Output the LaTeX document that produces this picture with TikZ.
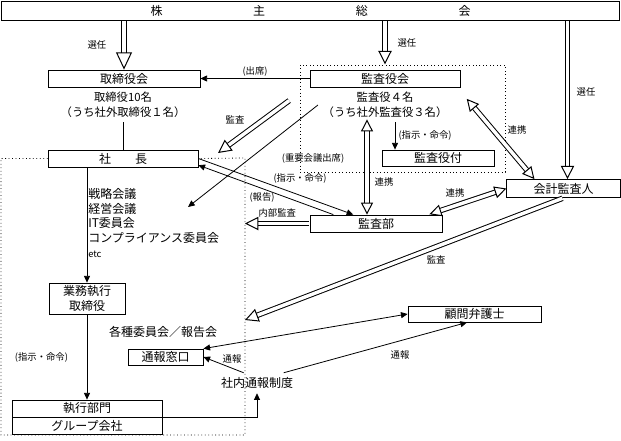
\documentclass[tikz,border=0pt]{standalone}
\usepackage{fontspec}
\setmainfont{Noto Sans CJK JP}
\usetikzlibrary{arrows.meta,calc}
\tikzset{
	box/.style={draw, line width=0.6pt, minimum height=12.75pt, inner sep=0pt, font=\fontsize{9}{11}\selectfont},
	txt/.style={font=\fontsize{8.5}{11}\selectfont, align=center},
	lbl/.style={font=\fontsize{7}{8}\selectfont, inner sep=1pt},
	arr/.style={line width=0.6pt, -{Triangle[length=5pt,width=4.5pt]}},
	hollow/.style={line width=0.75pt, double, double distance=2.6pt, shorten <=0.8pt, -{Triangle[open,length=10pt,width=10pt]}},
	hollowboth/.style={hollow, {Triangle[open,length=9pt,width=9pt]}-{Triangle[open,length=9pt,width=9pt]}},
	zone/.style={dotted, line width=0.6pt}
}
\begin{document}
\begin{tikzpicture}[x=0.75pt,y=-0.75pt]
	\useasboundingbox (0,0) rectangle (621,440);
	\node[box, minimum width=464pt, minimum height=14.25pt] (meeting) at (310.5,10.5) {株\hspace{68pt}主\hspace{68pt}総\hspace{68pt}会};
	\node[box, minimum width=114pt] (board) at (124,78.5) {取締役会};
	\node[txt] (boardtxt) at (123,105) {取締役10名\\（うち社外取締役１名）};
	\node[box, minimum width=112.5pt] (kansa) at (385,78.5) {監査役会};
	\node[txt] (kansatxt) at (385,105) {監査役４名\\（うち社外監査役３名）};
	\node[box, minimum width=84pt, minimum height=12pt] (staff) at (438,158) {監査役付};
	\node[box, minimum width=112.5pt] (president) at (123,158.5) {社　　長};
	\node[box, minimum width=99pt] (audit) at (376,223.5) {監査部};
	\node[box, minimum width=85pt, minimum height=13.5pt] (accountant) at (563.5,188.5) {会計監査人};
	\node[anchor=north west, font=\fontsize{9}{11}\selectfont, align=left, inner sep=0pt] (councils) at (88,188) {戦略会議\\経営会議\\IT委員会\\コンプライアンス委員会\\{\fontsize{7}{8}\selectfont etc}};
	\node[box, minimum width=57pt, minimum height=23.25pt, align=center] (exec) at (87,298.5) {業務執行\\取締役};
	\node[box, minimum width=112.5pt] (dept) at (87,408.5) {執行部門};
	\node[box, minimum width=112.5pt] (group) at (87,425.5) {グループ会社};
	\node[txt, font=\fontsize{9}{11}\selectfont] (reports) at (163,332) {各種委員会／報告会};
	\node[box, minimum width=56.25pt, minimum height=12pt] (window) at (165.5,357) {通報窓口};
	\node[txt, font=\fontsize{9}{11}\selectfont] (whistle) at (257,383) {社内通報制度};
	\node[box, minimum width=99.75pt, minimum height=12pt] (lawyer) at (474.5,314) {顧問弁護士};
	\coordinate (zoneR) at (245,320);
	\coordinate (meetpt) at (188,207);
	\coordinate (chkstart) at (290,100);
	\coordinate (chk) at (218,153);
	\coordinate (link) at ([xshift=-13.5pt]kansatxt.south);
	\draw[zone] (president.west) -| (1,435) -| (245,158) -- (president.east);
	\draw[zone] (300,65) rectangle (505,172);
	\draw[hollow, -{Triangle[open,length=13pt,width=12pt]}] (board.north |- meeting.south) -- node[lbl, left=12pt] (sel1) {選任} (board.north);
	\draw[hollow, shorten >=4pt] (kansa.north |- meeting.south) -- node[lbl, right=8pt, pos=0.45] (sel2) {選任} (kansa.north);
	\draw[hollow] ([xshift=3pt]accountant.north |- meeting.south) -- ([xshift=3pt]accountant.north);
	\node[lbl] (sel3) at (586,92) {選任};
	\draw[arr] (kansa.west) -- node[lbl, above] (attend) {(出席)} (board.east);
	\draw[line width=0.6pt] (boardtxt.south) -- (president.north);
	\draw[hollow] (chkstart) -- (chk);
	\node[lbl] (chk1) at (235,120) {監査};
	\draw[arr] (kansatxt.west) -- (meetpt);
	\node[lbl] (meetlbl) at (313,158) {(重要会議出席)};
	\draw[arr] (president.east) -- ([xshift=-17pt]audit.north);
	\draw[arr] ([xshift=-32pt]audit.north) -- ([yshift=-5pt]president.east);
	\node[lbl] (order1) at (300,178) {(指示・命令)};
	\node[lbl] (report) at (262,197) {(報告)};
	\draw[hollow] (audit.west) -- node[lbl, above=3pt] (internal) {内部監査} (audit.west -| zoneR);
	\draw[hollowboth] ([yshift=3pt]link) -- (link |- audit.north);
	\node[lbl] (coop1) at (384,182) {連携};
	\draw[arr] ([xshift=7.5pt]kansatxt.south) -- ([xshift=7.5pt]kansatxt.south |- staff.north);
	\node[lbl] (order2) at (425,135) {(指示・命令)};
	\draw[hollowboth] ($(kansatxt.east)+(14,-7)$) -- ([xshift=21pt]accountant.north west);
	\node[lbl] (coop2) at (517,130) {連携};
	\draw[hollowboth] ([xshift=-10.5pt]audit.north east) -- (accountant.west);
	\node[lbl] (coop3) at (455,193) {連携};
	\draw[hollow] (accountant.south) -- node[lbl, below=5pt, pos=0.4] (chk2) {監査} (zoneR);
	\draw[arr] (exec.north |- president.south) -- (exec.north);
	\draw[arr] (exec.south) -- node[lbl, left=13pt] (order3) {(指示・命令)} (dept.north);
	\draw[arr] (dept.south east) -| (whistle.south);
	\draw[arr] ([xshift=-10pt]whistle.north) -- (window.east);
	\node[lbl] (tel1) at (232,359) {通報};
	\draw[arr] ([xshift=20pt]whistle.north) -- ([xshift=-5.6pt]lawyer.south);
	\node[lbl] (tel2) at (400,355) {通報};
	\draw[line width=0.6pt, {Triangle[length=5pt,width=4.5pt]}-{Triangle[length=5pt,width=4.5pt]}] (window.north east) -- (lawyer.west);
\end{tikzpicture}
\end{document}
